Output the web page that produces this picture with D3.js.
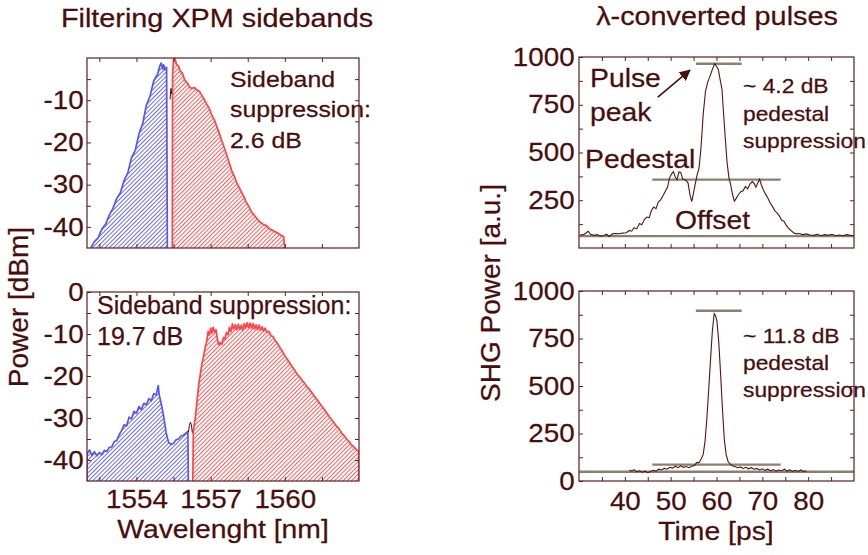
<!DOCTYPE html>
<html>
<head>
<meta charset="utf-8" />
<title>XPM sidebands and converted pulses</title>
<style>
  body { margin: 0; background: #fff; }
  svg text { font-family: "Liberation Sans", Arial, sans-serif; fill: #4a0d0d; stroke: #4a0d0d; stroke-width: 0.25px; }
</style>
</head>
<body>
<script src="https://d3js.org/d3.v7.min.js"></script>
<script>
// spectra, [wavelength nm, power dBm]
var blueTop = [[1552.15,-45],[1552.3,-43.5],[1552.45,-42.6],[1552.6,-40.5],[1552.75,-39.4],[1552.9,-37.2],[1553.05,-35.6],[1553.2,-33.3],[1553.35,-31.9],[1553.5,-29.0],[1553.65,-27.2],[1553.8,-23.6],[1553.95,-21.9],[1554.1,-18.0],[1554.25,-15.6],[1554.4,-11.2],[1554.55,-9.0],[1554.7,-5.4],[1554.85,-3.9],[1554.95,-1.8],[1555.0,-1.2],[1555.06,-2.6],[1555.1,-1.6],[1555.15,-2.8],[1555.22,-2.2],[1555.25,-45]];
var redTop = [[1555.45,-45],[1555.46,-4],[1555.5,-0.3],[1555.55,0],[1555.62,-1.5],[1555.7,-1.9],[1555.78,-3.2],[1555.86,-3.6],[1555.95,-5.2],[1556.05,-5.8],[1556.15,-6.9],[1556.25,-7.2],[1556.35,-7.0],[1556.45,-7.6],[1556.55,-7.9],[1556.65,-8.9],[1556.75,-9.9],[1556.85,-11.0],[1556.95,-12.0],[1557.05,-13.6],[1557.15,-14.6],[1557.25,-16.3],[1557.35,-17.8],[1557.45,-19.6],[1557.55,-21.2],[1557.65,-23.0],[1557.75,-24.8],[1557.85,-26.6],[1557.95,-27.9],[1558.05,-29.5],[1558.15,-30.6],[1558.25,-31.8],[1558.35,-32.9],[1558.45,-34.3],[1558.55,-35.2],[1558.65,-36.4],[1558.75,-37.1],[1558.85,-37.9],[1558.95,-38.6],[1559.1,-39.3],[1559.25,-39.7],[1559.4,-40.5],[1559.55,-41.0],[1559.7,-41.4],[1559.85,-42.0],[1559.95,-42.3],[1560.0,-45]];
var blackTop = [[1555.36,-9.8],[1555.38,-8.0],[1555.40,-7.2],[1555.42,-8.5]];

var blueBottom = [[1552.0,-45],[1552.0,-38.6],[1552.1,-37.6],[1552.2,-38.9],[1552.3,-38.0],[1552.4,-39.0],[1552.5,-38.2],[1552.6,-38.8],[1552.7,-37.7],[1552.8,-38.0],[1552.9,-37.0],[1553.0,-36.9],[1553.1,-35.6],[1553.2,-35.4],[1553.3,-34.0],[1553.4,-33.0],[1553.5,-31.6],[1553.6,-31.9],[1553.7,-29.8],[1553.8,-30.2],[1553.9,-28.4],[1554.0,-28.9],[1554.1,-27.3],[1554.2,-28.0],[1554.3,-26.5],[1554.4,-26.9],[1554.5,-25.4],[1554.6,-25.9],[1554.7,-24.2],[1554.8,-24.5],[1554.88,-22.3],[1554.92,-24.5],[1555.0,-26.5],[1555.1,-29.6],[1555.2,-33.5],[1555.3,-35.8],[1555.4,-36.3],[1555.5,-36.0],[1555.6,-35.2],[1555.7,-35.0],[1555.8,-34.3],[1555.9,-34.1],[1556.0,-33.6],[1556.08,-33.2],[1556.1,-45]];
var redBottom = [[1556.28,-45],[1556.3,-33],[1556.37,-30.4],[1556.45,-26.0],[1556.52,-22.0],[1556.57,-20.1],[1556.65,-17.0],[1556.72,-15.2],[1556.77,-13.5],[1556.84,-11.8],[1556.9,-9.4],[1556.95,-10.2],[1557.0,-8.6],[1557.05,-9.8],[1557.1,-8.4],[1557.16,-9.5],[1557.22,-9.0],[1557.28,-11.5],[1557.34,-12.6],[1557.4,-12.0],[1557.46,-12.4],[1557.52,-10.8],[1557.58,-11.2],[1557.64,-9.6],[1557.7,-10.2],[1557.76,-8.4],[1557.82,-9.4],[1557.88,-7.6],[1557.94,-8.8],[1558.0,-7.8],[1558.06,-9.0],[1558.12,-7.7],[1558.18,-8.9],[1558.24,-7.9],[1558.3,-9.1],[1558.36,-7.5],[1558.42,-8.6],[1558.48,-7.3],[1558.54,-8.5],[1558.6,-7.4],[1558.66,-8.6],[1558.72,-7.5],[1558.78,-8.8],[1558.84,-7.8],[1558.9,-9.0],[1558.96,-7.9],[1559.02,-9.1],[1559.08,-8.3],[1559.14,-9.4],[1559.2,-8.6],[1559.28,-9.6],[1559.36,-9.4],[1559.44,-10.4],[1559.52,-10.6],[1559.6,-11.4],[1559.7,-12.2],[1559.8,-13.2],[1559.9,-14.1],[1560.0,-15.2],[1560.1,-16.0],[1560.2,-16.9],[1560.3,-17.8],[1560.4,-18.6],[1560.5,-19.6],[1560.6,-20.2],[1560.7,-21.0],[1560.8,-21.7],[1560.9,-22.6],[1561.0,-23.2],[1561.1,-24.0],[1561.2,-24.8],[1561.3,-25.6],[1561.4,-26.4],[1561.5,-27.2],[1561.6,-28.0],[1561.7,-28.8],[1561.8,-29.7],[1561.9,-30.4],[1562.0,-31.2],[1562.1,-32.0],[1562.2,-32.6],[1562.3,-33.6],[1562.4,-34.2],[1562.5,-35.0],[1562.6,-35.6],[1562.7,-36.4],[1562.8,-36.9],[1562.9,-37.6],[1563.0,-38.0],[1563.0,-45]];
var blackBottom = [[1556.1,-33.4],[1556.14,-31.8],[1556.18,-31.0],[1556.22,-31.6],[1556.26,-33.5]];

// SHG traces, [time ps, power a.u.]
var pulseTop = [[30.2,68],[31,70],[31.6,80],[32,88],[32.5,72],[33.3,66],[34,70],[34.6,62],[35.3,64],[36,72],[36.6,60],[37.3,74],[38,76],[38.8,75],[39.5,78],[40.3,80],[41,92],[41.5,88],[42,106],[42.6,100],[43.2,128],[43.7,122],[44.3,150],[44.8,162],[45.3,158],[45.8,196],[46.3,214],[46.8,206],[47.3,240],[47.8,252],[48.3,272],[48.8,296],[49.3,318],[49.8,370],[50.2,388],[50.6,400],[51,372],[51.4,358],[51.8,398],[52.2,396],[52.6,362],[53,358],[53.4,352],[53.8,340],[54.2,280],[54.6,243],[55,290],[55.4,340],[55.8,385],[56.2,420],[56.6,520],[57.1,700],[57.6,820],[58.1,870],[58.6,900],[59.1,935],[59.6,965],[60,950],[60.4,935],[60.8,880],[61.2,830],[61.5,720],[61.9,580],[62.3,450],[62.7,370],[63.1,330],[63.5,280],[63.9,245],[64.3,260],[64.8,280],[65.3,295],[65.8,300],[66.3,322],[66.8,310],[67.3,335],[67.8,348],[68.2,338],[68.6,318],[69,340],[69.4,360],[69.8,330],[70.2,305],[70.7,282],[71.2,262],[71.7,236],[72.2,218],[72.7,196],[73.2,184],[73.7,168],[74.2,146],[74.7,140],[75.2,120],[75.7,104],[76.2,92],[76.8,80],[77.4,74],[78,76],[78.8,70],[79.6,74],[80.4,68],[81.2,66],[82,72],[82.8,64],[83.6,70],[84.4,66],[85.2,72],[86,64],[86.8,68],[87.6,64],[88.4,70],[89.2,66],[89.9,64]];
var pulseBottom = [[41,58],[41.5,52],[42,60],[42.6,48],[43.2,54],[43.8,46],[44.4,52],[45,44],[45.6,50],[46.2,56],[46.8,52],[47.4,62],[48,58],[48.6,66],[49.2,62],[49.8,72],[50.4,68],[51,78],[51.6,70],[52.2,80],[52.8,72],[53.4,76],[54,70],[54.6,78],[55.2,82],[55.7,98],[56.2,96],[56.7,118],[57.1,140],[57.5,210],[57.9,330],[58.3,480],[58.7,640],[59.1,790],[59.5,880],[59.8,870],[60.1,840],[60.5,730],[60.9,560],[61.3,380],[61.7,220],[62.1,140],[62.5,104],[62.9,92],[63.4,80],[64,76],[64.6,70],[65.2,74],[65.8,66],[66.4,72],[67,64],[67.6,70],[68.2,62],[68.8,66],[69.4,58],[70,64],[70.6,56],[71.2,62],[71.8,54],[72.4,60],[73,52],[73.6,58],[74.2,54],[74.8,62],[75.4,52],[76,58],[76.6,50],[77.2,56],[77.8,50],[78.4,58],[79,50],[79.6,54]];

// reference levels: [level, t start, t end]
var levelsTop = [[965,55.5,65.5],[358,46,74],[62,30,90]];
var levelsBottom = [[896,55.5,65.5],[86,46,74],[49,30,90]];
var arrowTop = [[47.2,790],[54.2,931]];

var wlTicks = [1552.5,1554,1555.5,1557,1558.5,1560,1561.5];
var wlLabels = [1554,1557,1560];
var dbTicks = [-40,-35,-30,-25,-20,-15,-10,-5];
var dbLabelsTop = [-40,-30,-20,-10];
var dbLabelsBottom = [-40,-30,-20,-10,0];
var tTicks = [35,40,45,50,55,60,65,70,75,80,85];
var tLabels = [40,50,60,70,80];
var pTicks = [125,250,375,500,625,750,875];
var pLabelsTop = [250,500,750,1000];
var pLabelsBottom = [0,250,500,750,1000];

var width = 868, height = 555;
var frameCol = "#5e1e1e";
var blueCol = "#5656f0", redCol = "#ff4545", traceCol = "#5a1212", levelCol = "#8c7f70";

var svg = d3.select("body").append("svg")
            .attr("width", width)
            .attr("height", height);
var defs = svg.append("defs");

function hatch(id, col) {
    defs.append("pattern")
        .attr("id", id)
        .attr("patternUnits", "userSpaceOnUse")
        .attr("width", 3).attr("height", 3)
        .attr("patternTransform", "rotate(45)")
        .append("line")
        .attr("x1", 0.5).attr("y1", 0).attr("x2", 0.5).attr("y2", 3)
        .attr("stroke", col).attr("stroke-width", 1);
}
hatch("hBlue", "#6c6cf2");
hatch("hRed", "#ff5c5c");

defs.append("marker")
    .attr("id", "arrowHead")
    .attr("viewBox", "0 0 10 10")
    .attr("refX", 9).attr("refY", 5)
    .attr("markerWidth", 7).attr("markerHeight", 7)
    .attr("markerUnits", "strokeWidth")
    .attr("orient", "auto")
    .append("path").attr("d", "M0,0 L10,5 L0,10 z").attr("fill", "#4a0d0d");

function txt(x, y, s, size, sx, anchor, rot) {
    return svg.append("text")
        .attr("transform", "translate(" + x + "," + y + ")" + (rot ? " rotate(" + rot + ")" : "") + " scale(" + sx + ",1)")
        .attr("text-anchor", anchor || "start")
        .style("font-size", size + "px")
        .text(s);
}

function frame(x, y, o) {
    var g = svg.append("g");
    var x0 = x.range()[0], x1 = x.range()[1], y0 = y.range()[0], y1 = y.range()[1];
    var fmt = function(list) { return function(d) { return list.indexOf(d) >= 0 ? String(d) : ""; }; };

    var axes = [
        g.append("g").attr("transform", "translate(0," + y0 + ")")
         .call(d3.axisBottom(x).tickValues(o.xTicks).tickSize(-4).tickSizeOuter(0).tickPadding(o.xPad).tickFormat(fmt(o.xLabels))),
        g.append("g").attr("transform", "translate(0," + y1 + ")")
         .call(d3.axisTop(x).tickValues(o.xTicks).tickSize(-4).tickSizeOuter(0).tickFormat("")),
        g.append("g").attr("transform", "translate(" + x0 + ",0)")
         .call(d3.axisLeft(y).tickValues(d3.union(o.yTicks, o.yLabels)).tickSize(-4).tickSizeOuter(0).tickPadding(o.yPad).tickFormat(fmt(o.yLabels))),
        g.append("g").attr("transform", "translate(" + x1 + ",0)")
         .call(d3.axisRight(y).tickValues(o.yTicks).tickSize(-4).tickSizeOuter(0).tickFormat(""))
    ];
    axes.forEach(function(a) {
        a.attr("font-size", null).attr("font-family", null);
        a.select(".domain").remove();
        a.selectAll("line").attr("stroke", frameCol).attr("stroke-width", 1);
        a.selectAll("text").style("font-size", "25.5px").attr("fill", null)
         .attr("transform", "scale(1.09,1)");
    });
    g.append("rect")
        .attr("x", x0).attr("y", y1)
        .attr("width", x1 - x0).attr("height", y0 - y1)
        .attr("fill", "none").attr("stroke", frameCol).attr("stroke-width", 1.2);
}

function clip(id, x, y) {
    defs.append("clipPath").attr("id", id).append("rect")
        .attr("x", x.range()[0]).attr("y", y.range()[1])
        .attr("width", x.range()[1] - x.range()[0])
        .attr("height", y.range()[0] - y.range()[1]);
}

function spectrum(x, y, clipId, blue, red, black) {
    var g = svg.append("g").attr("clip-path", "url(#" + clipId + ")");
    var area = d3.area().x(d => x(d[0])).y0(y(-45)).y1(d => y(d[1]));
    var line = d3.line().x(d => x(d[0])).y(d => y(d[1]));
    g.append("path").datum(blue).attr("d", area).attr("fill", "url(#hBlue)");
    g.append("path").datum(red).attr("d", area).attr("fill", "url(#hRed)");
    g.append("path").datum(blue).attr("d", line).attr("fill", "none")
     .attr("stroke", blueCol).attr("stroke-width", 1.7).attr("stroke-linejoin", "round");
    g.append("path").datum(red).attr("d", line).attr("fill", "none")
     .attr("stroke", redCol).attr("stroke-width", 1.7).attr("stroke-linejoin", "round");
    g.append("path").datum(black).attr("d", line).attr("fill", "none")
     .attr("stroke", "#3a1010").attr("stroke-width", 1);
}

function pulses(x, y, clipId, trace, levels) {
    var g = svg.append("g").attr("clip-path", "url(#" + clipId + ")");
    g.selectAll("line.level").data(levels).enter().append("line")
     .attr("class", "level")
     .attr("x1", d => x(d[1])).attr("x2", d => x(d[2]))
     .attr("y1", d => y(d[0])).attr("y2", d => y(d[0]))
     .attr("stroke", levelCol).attr("stroke-width", 2.4);
    g.append("path").datum(trace)
     .attr("d", d3.line().x(d => x(d[0])).y(d => y(d[1])))
     .attr("fill", "none").attr("stroke", traceCol).attr("stroke-width", 1.1);
}

// scales
var xWl = d3.scaleLinear().domain([1552, 1563]).range([87, 359]);
var yDbTop = d3.scaleLinear().domain([-45, 0]).range([248, 58]);
var yDbBot = d3.scaleLinear().domain([-45, 0]).range([481, 292]);
var xT = d3.scaleLinear().domain([30, 90]).range([579, 854]);
var yPTop = d3.scaleLinear().domain([0, 1000]).range([248, 57]);
var yPBot = d3.scaleLinear().domain([0, 1000]).range([481, 291]);

clip("cTL", xWl, yDbTop);
clip("cBL", xWl, yDbBot);
clip("cTR", xT, yPTop);
clip("cBR", xT, yPBot);

spectrum(xWl, yDbTop, "cTL", blueTop, redTop, blackTop);
spectrum(xWl, yDbBot, "cBL", blueBottom, redBottom, blackBottom);
pulses(xT, yPTop, "cTR", pulseTop, levelsTop);
pulses(xT, yPBot, "cBR", pulseBottom, levelsBottom);

frame(xWl, yDbTop, {xTicks: wlTicks, xLabels: [], xPad: 9, yTicks: dbTicks, yLabels: dbLabelsTop, yPad: 3});
frame(xWl, yDbBot, {xTicks: wlTicks, xLabels: wlLabels, xPad: 9, yTicks: dbTicks, yLabels: dbLabelsBottom, yPad: 3});
frame(xT, yPTop, {xTicks: tTicks, xLabels: [], xPad: 11, yTicks: pTicks, yLabels: pLabelsTop, yPad: 4});
frame(xT, yPBot, {xTicks: tTicks, xLabels: tLabels, xPad: 11, yTicks: pTicks, yLabels: pLabelsBottom, yPad: 4});

// arrow to the pulse peak
svg.append("line")
   .attr("x1", xT(arrowTop[0][0])).attr("y1", yPTop(arrowTop[0][1]))
   .attr("x2", xT(arrowTop[1][0])).attr("y2", yPTop(arrowTop[1][1]))
   .attr("stroke", "#4a0d0d").attr("stroke-width", 1.6)
   .attr("marker-end", "url(#arrowHead)");

// titles and axis labels
txt(217, 27, "Filtering XPM sidebands", 25.5, 1.13, "middle");
txt(717, 25, "λ-converted pulses", 25.5, 1.13, "middle");
txt(223, 538, "Wavelenght [nm]", 26, 1.09, "middle");
txt(716, 540, "Time [ps]", 26, 1.09, "middle");
txt(28, 307, "Power [dBm]", 28, 1, "middle", -90);
txt(500, 293, "SHG Power [a.u.]", 28, 1, "middle", -90);

// annotations
txt(230, 87, "Sideband", 22, 1.13);
txt(230, 117, "suppression:", 22, 1.13);
txt(230, 148, "2.6 dB", 22, 1.13);
txt(97, 314, "Sideband suppression:", 25, 1.0);
txt(97, 345, "19.7 dB", 25, 1.0);
txt(590, 87, "Pulse", 26, 1.09);
txt(590, 121, "peak", 26, 1.09);
txt(585, 168, "Pedestal", 26, 1.09);
txt(675, 229, "Offset", 26, 1.09);
txt(743, 93, "~ 4.2 dB", 20, 1.14);
txt(743, 121, "pedestal", 20, 1.14);
txt(743, 148, "suppression", 20, 1.14);
txt(743, 343, "~ 11.8 dB", 20, 1.14);
txt(743, 370, "pedestal", 20, 1.14);
txt(743, 397, "suppression", 20, 1.14);
</script>
</body>
</html>
